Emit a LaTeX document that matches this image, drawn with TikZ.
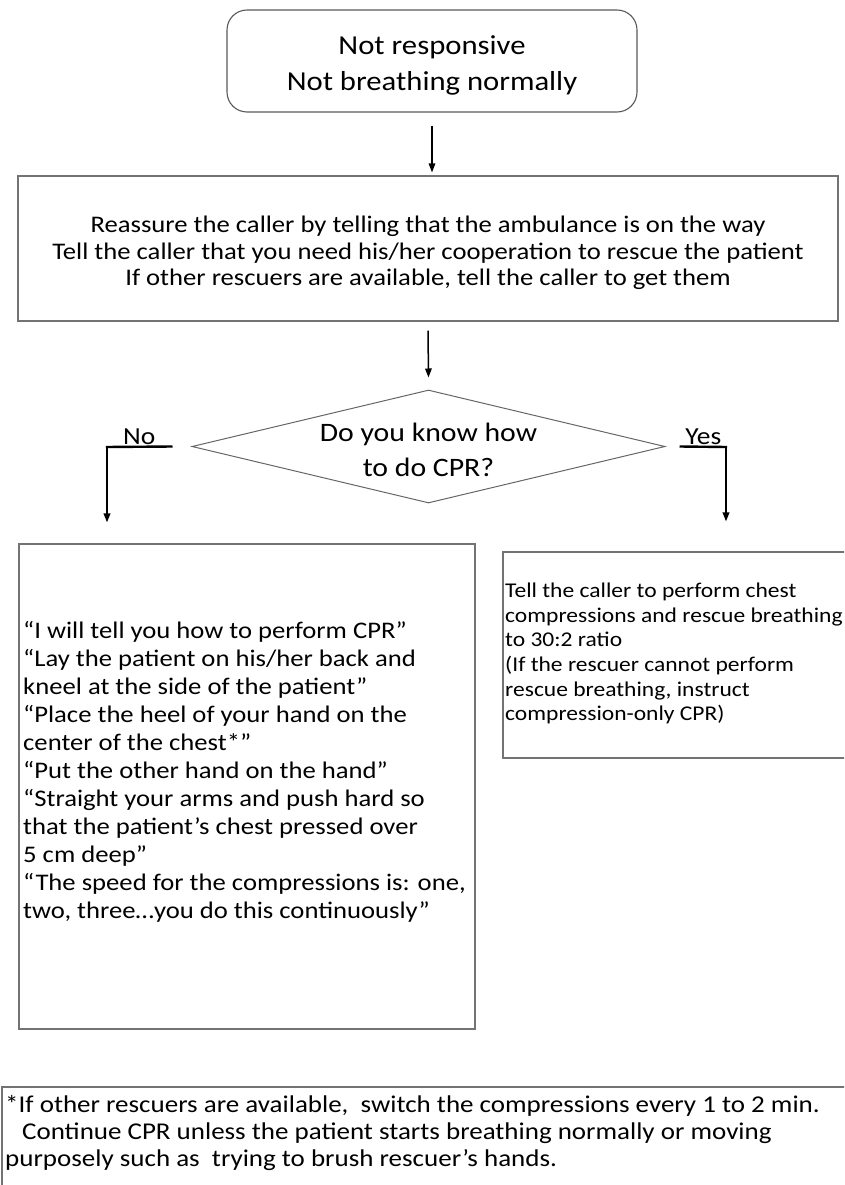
\documentclass[tikz,border=0pt]{standalone}
\usepackage{fontspec}
\setmainfont{Carlito}[FakeStretch=1.12]
\usepackage{xcolor}
\usetikzlibrary{shapes.geometric,arrows.meta}

\begin{document}
\begin{tikzpicture}[x=1pt, y=-1pt,
	box/.style={rectangle, draw=black!55, line width=1.1pt, inner sep=0pt},
	txt/.style={inner sep=0pt, align=left, text=black},
	arr/.style={-{Triangle[length=9pt, width=6.5pt]}, line width=1.5pt},
	branch/.style={line width=2.4pt},
	lbl/.style={inner sep=1pt, font=\fontsize{24.5}{28}\selectfont}]
	\useasboundingbox (0,0) rectangle (844,1185);
	\clip (0,0) rectangle (844,1185);
	\node[box, rounded corners=20pt, draw=black!65, minimum width=410pt, minimum height=102pt] at (432,61)(start){};
	\node[txt, align=center, font=\fontsize{27.4}{36}\selectfont] at (432,65)(starttxt){Not responsive\\Not breathing normally};
	\node[box, minimum width=820pt, minimum height=145pt] at (428,248.5)(reassure){};
	\node[txt, align=center, font=\fontsize{23.8}{26.5}\selectfont] at (428,253)(reassuretxt){Reassure the caller by telling that the ambulance is on the way\\Tell the caller that you need his/her cooperation to rescue the patient\\If other rescuers are available, tell the caller to get them};
	\node[diamond, draw=black!60, line width=1pt, minimum width=473pt, minimum height=113pt, inner sep=0pt] at (428.5,446.5)(question){};
	\node[txt, align=center, font=\fontsize{26.6}{35}\selectfont] at (428.5,450)(questiontxt){Do you know how\\to do CPR?};
	\node[box, minimum width=456pt, minimum height=485pt] at (247,786.5)(nobox){};
	\node[txt, anchor=west, font=\fontsize{23.8}{28}\selectfont] at (23,772)(notxt){“I will tell you how to perform CPR”\\“Lay the patient on his/her back and\\kneel at the side of the patient”\\“Place the heel of your hand on the\\center of the chest*”\\“Put the other hand on the hand”\\“Straight your arms and push hard so\\that the patient’s chest pressed over\\5 cm deep”\\“The speed for the compressions is: one,\\two, three…you do this continuously”};
	\node[box, minimum width=357pt, minimum height=206pt] at (681.5,655)(yesbox){};
	\node[txt, anchor=west, font=\fontsize{21}{24.6}\selectfont] at (505,653.5)(yestxt){Tell the caller to perform chest\\compressions and rescue breathing\\to 30:2 ratio\\(If the rescuer cannot perform\\rescue breathing, instruct\\compression-only CPR)};
	\node[box, minimum width=858pt, minimum height=113pt] at (431,1143.5)(notebox){};
	\node[txt, anchor=west, font=\fontsize{24.1}{27}\selectfont] at (5,1133)(notetxt){*If other rescuers are available,\ \ switch the compressions every 1 to 2 min.\\\hspace*{17pt}Continue CPR unless the patient starts breathing normally or moving\\purposely such as\ \ trying to brush rescuer’s hands.};
	\coordinate (nocorner) at (107,447);
	\coordinate (yescorner) at (726,447);
	\draw[arr](start.south)++(0,13) -- ([yshift=3pt]start.south |- reassure.north);
	\draw[arr]([yshift=-9pt]reassure.south) -- ([yshift=12pt]question.north);
	\draw[branch]([xshift=-19pt]question.west) -- node[lbl, above](nolbl){No} ([xshift=-1.2pt]nocorner);
	\draw[arr, line width=1.8pt](nocorner) -- ([yshift=21pt]nocorner |- nobox.north);
	\draw[branch]([xshift=14pt]question.east) -- node[lbl, above](yeslbl){Yes} ([xshift=1.2pt]yescorner);
	\draw[arr, line width=1.8pt](yescorner) -- ([yshift=30pt]yescorner |- yesbox.north);
\end{tikzpicture}
\end{document}
